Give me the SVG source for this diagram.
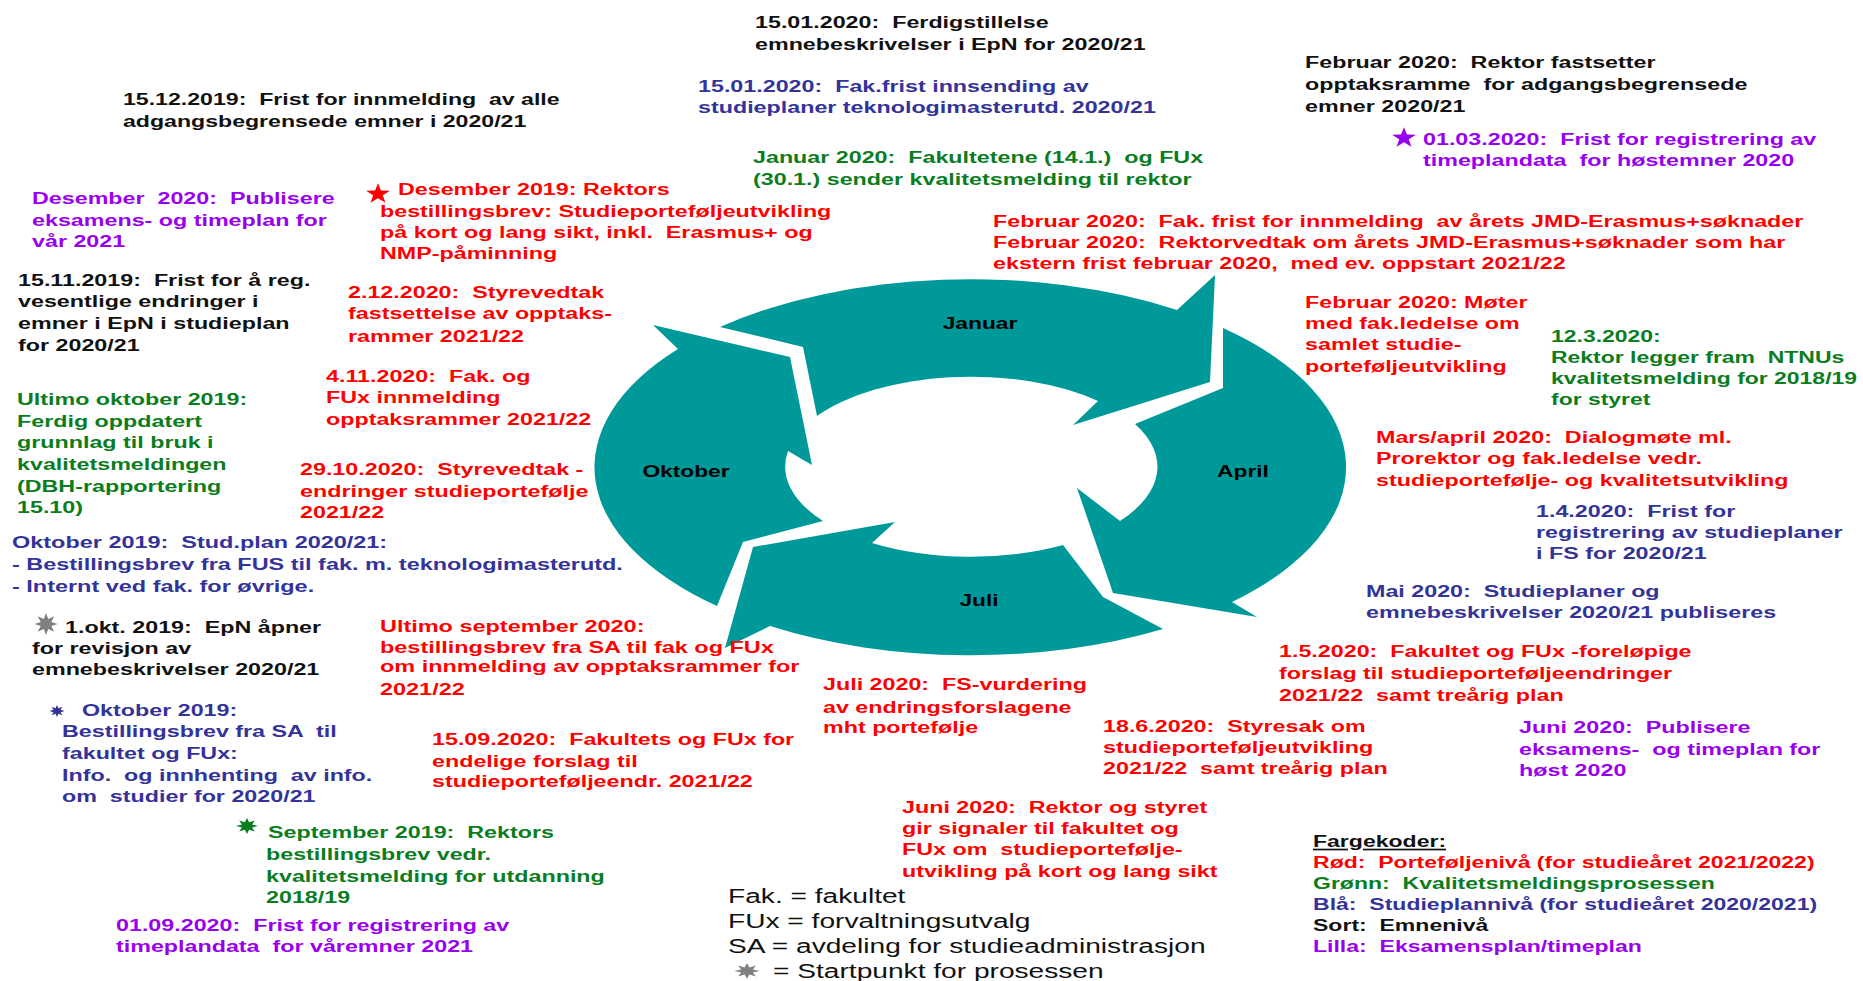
<svg xmlns="http://www.w3.org/2000/svg" xmlns:xlink="http://www.w3.org/1999/xlink" width="1863" height="981" viewBox="0 0 1863 981">
<style>
text{font-family:"Liberation Sans",Arial,"DejaVu Sans",sans-serif;white-space:pre}
.t{font-weight:bold;font-size:17px}
.n{font-size:21px;fill:#111}
.m{font-weight:bold;font-size:17px;fill:#000;text-anchor:middle}
.r{fill:#FF0000}
.g{fill:#0A7D1E}
.b{fill:#333399}
.p{fill:#9900EE}
.k{fill:#111}
.arrow{fill:#009999}
</style>
<defs>
<path id="star5" d="M0,-12 L2.82,-3.88 L11.41,-3.71 L4.57,1.48 L7.05,9.71 L0,4.8 L-7.05,9.71 L-4.57,1.48 L-11.41,-3.71 L-2.82,-3.88 Z"/>
<path id="star8" d="M0,-11 L2.1,-5.08 L7.78,-7.78 L5.08,-2.1 L11,0 L5.08,2.1 L7.78,7.78 L2.1,5.08 L0,11 L-2.1,5.08 L-7.78,7.78 L-5.08,2.1 L-11,0 L-5.08,-2.1 L-7.78,-7.78 L-2.1,-5.08 Z"/>
</defs>
<rect width="1863" height="981" fill="#fff"/>

<g id="cycle">
<g id="arrow-januar">
<path class="arrow" d="M720,327 A376,188 0 0 1 1177,310 L1215,275 L1210,382 L1073,425 L1098,401 A186,90 0 0 0 817,416 L803,347 Z"/>
<text class="m" transform="translate(980,329) scale(1.34,1)" x="0" y="0">Januar</text>
</g>
<g id="arrow-april">
<path class="arrow" d="M1223,328 A376,188 0 0 1 1232,602 L1257,617 L1113,593 L1077,488 L1120,521 A186,90 0 0 0 1135,424 L1223,388 Z"/>
<text class="m" transform="translate(1243,477) scale(1.34,1)" x="0" y="0">April</text>
</g>
<g id="arrow-juli">
<path class="arrow" d="M1163,629 A376,188 0 0 1 770,626 L725,648 L753,547 L895,522 L872,543 A186,90 0 0 0 1063,545 L1103,597 Z"/>
<text class="m" transform="translate(979,606) scale(1.34,1)" x="0" y="0">Juli</text>
</g>
<g id="arrow-oktober">
<path class="arrow" d="M717,606 A376,188 0 0 1 678,349 L653,325 L790,357 L812,465 L788,451 A186,90 0 0 0 823,521 L743,542 Z"/>
<text class="m" transform="translate(686,477) scale(1.34,1)" x="0" y="0">Oktober</text>
</g>
</g>

<g id="n-15-12-2019"><text class="t k" transform="translate(123,105) scale(1.36,1)"><tspan x="0" y="0">15.12.2019:  Frist for innmelding  av alle</tspan><tspan x="0" y="22">adgangsbegrensede emner i 2020/21</tspan></text></g>

<g id="n-15-01-2020-a"><text class="t k" transform="translate(755,28) scale(1.37,1)"><tspan x="0" y="0">15.01.2020:  Ferdigstillelse</tspan><tspan x="0" y="22">emnebeskrivelser i EpN for 2020/21</tspan></text></g>

<g id="n-15-01-2020-b"><text class="t b" transform="translate(698,92) scale(1.37,1)"><tspan x="0" y="0">15.01.2020:  Fak.frist innsending av</tspan><tspan x="0" y="21">studieplaner teknologimasterutd. 2020/21</tspan></text></g>

<g id="n-januar-2020"><text class="t g" transform="translate(753,163) scale(1.37,1)"><tspan x="0" y="0">Januar 2020:  Fakultetene (14.1.)  og FUx</tspan><tspan x="0" y="22">(30.1.) sender kvalitetsmelding til rektor</tspan></text></g>

<g id="n-februar-2020-rektor"><text class="t k" transform="translate(1305,68) scale(1.37,1)"><tspan x="0" y="0">Februar 2020:  Rektor fastsetter</tspan><tspan x="0" y="22">opptaksramme  for adgangsbegrensede</tspan><tspan x="0" y="44">emner 2020/21</tspan></text></g>

<g id="n-01-03-2020"><use xlink:href="#star5" href="#star5" class="p" transform="translate(1404,138) scale(1.05,0.9)"/><text class="t p" transform="translate(1423,145) scale(1.37,1)"><tspan x="0" y="0">01.03.2020:  Frist for registrering av</tspan><tspan x="0" y="21">timeplandata  for høstemner 2020</tspan></text></g>

<g id="n-desember-2020"><text class="t p" transform="translate(32,204) scale(1.37,1)"><tspan x="0" y="0">Desember  2020:  Publisere</tspan><tspan x="0" y="22">eksamens- og timeplan for</tspan><tspan x="0" y="43">vår 2021</tspan></text></g>

<g id="n-desember-2019"><use xlink:href="#star5" href="#star5" class="r" transform="translate(378,194) scale(1.05,0.9)"/><text class="t r" transform="translate(380,195) scale(1.37,1)"><tspan x="13.1" y="0">Desember 2019: Rektors</tspan><tspan x="0" y="22">bestillingsbrev: Studieporteføljeutvikling</tspan><tspan x="0" y="43">på kort og lang sikt, inkl.  Erasmus+ og</tspan><tspan x="0" y="64">NMP-påminning</tspan></text></g>

<g id="n-15-11-2019"><text class="t k" transform="translate(18,286) scale(1.37,1)"><tspan x="0" y="0">15.11.2019:  Frist for å reg.</tspan><tspan x="0" y="21">vesentlige endringer i</tspan><tspan x="0" y="43">emner i EpN i studieplan</tspan><tspan x="0" y="65">for 2020/21</tspan></text></g>

<g id="n-2-12-2020"><text class="t r" transform="translate(348,298) scale(1.37,1)"><tspan x="0" y="0">2.12.2020:  Styrevedtak</tspan><tspan x="0" y="21">fastsettelse av opptaks-</tspan><tspan x="0" y="44">rammer 2021/22</tspan></text></g>

<g id="n-4-11-2020"><text class="t r" transform="translate(326,382) scale(1.37,1)"><tspan x="0" y="0">4.11.2020:  Fak. og</tspan><tspan x="0" y="21">FUx innmelding</tspan><tspan x="0" y="43">opptaksrammer 2021/22</tspan></text></g>

<g id="n-ultimo-oktober-2019"><text class="t g" transform="translate(17,405) scale(1.37,1)"><tspan x="0" y="0">Ultimo oktober 2019:</tspan><tspan x="0" y="22">Ferdig oppdatert</tspan><tspan x="0" y="43">grunnlag til bruk i</tspan><tspan x="0" y="65">kvalitetsmeldingen</tspan><tspan x="0" y="87">(DBH-rapportering</tspan><tspan x="0" y="108">15.10)</tspan></text></g>

<g id="n-29-10-2020"><text class="t r" transform="translate(300,475) scale(1.37,1)"><tspan x="0" y="0">29.10.2020:  Styrevedtak -</tspan><tspan x="0" y="22">endringer studieportefølje</tspan><tspan x="0" y="43">2021/22</tspan></text></g>

<g id="n-oktober-2019-studplan"><text class="t b" transform="translate(12,548) scale(1.38,1)"><tspan x="0" y="0">Oktober 2019:  Stud.plan 2020/21:</tspan><tspan x="0" y="22">- Bestillingsbrev fra FUS til fak. m. teknologimasterutd.</tspan><tspan x="0" y="44">- Internt ved fak. for øvrige.</tspan></text></g>

<g id="n-1-okt-2019"><use xlink:href="#star8" href="#star8" fill="#808080" transform="translate(46,624) scale(1.05,1)"/><text class="t k" transform="translate(32,633) scale(1.37,1)"><tspan x="24.1" y="0">1.okt. 2019:  EpN åpner</tspan><tspan x="0" y="21">for revisjon av</tspan><tspan x="0" y="42">emnebeskrivelser 2020/21</tspan></text></g>

<g id="n-oktober-2019-sa"><use xlink:href="#star8" href="#star8" class="b" transform="translate(57,711) scale(0.7,0.55)"/><text class="t b" transform="translate(62,716) scale(1.37,1)"><tspan x="14.6" y="0">Oktober 2019:</tspan><tspan x="0" y="21">Bestillingsbrev fra SA  til</tspan><tspan x="0" y="43">fakultet og FUx:</tspan><tspan x="0" y="65">Info.  og innhenting  av info.</tspan><tspan x="0" y="86">om  studier for 2020/21</tspan></text></g>

<g id="n-september-2019"><use xlink:href="#star8" href="#star8" class="g" transform="translate(247,826) scale(1,0.72)"/><text class="t g" transform="translate(266,838) scale(1.37,1)"><tspan x="1.5" y="0">September 2019:  Rektors</tspan><tspan x="0" y="22">bestillingsbrev vedr.</tspan><tspan x="0" y="44">kvalitetsmelding for utdanning</tspan><tspan x="0" y="65">2018/19</tspan></text></g>

<g id="n-01-09-2020"><text class="t p" transform="translate(116,931) scale(1.37,1)"><tspan x="0" y="0">01.09.2020:  Frist for registrering av</tspan><tspan x="0" y="21">timeplandata  for våremner 2021</tspan></text></g>

<g id="n-ultimo-september-2020"><text class="t r" transform="translate(380,632) scale(1.38,1)"><tspan x="0" y="0">Ultimo september 2020:</tspan><tspan x="0" y="21">bestillingsbrev fra SA til fak og FUx</tspan><tspan x="0" y="40">om innmelding av opptaksrammer for</tspan><tspan x="0" y="63">2021/22</tspan></text></g>

<g id="n-15-09-2020"><text class="t r" transform="translate(432,745) scale(1.37,1)"><tspan x="0" y="0">15.09.2020:  Fakultets og FUx for</tspan><tspan x="0" y="22">endelige forslag til</tspan><tspan x="0" y="42">studieporteføljeendr. 2021/22</tspan></text></g>

<g id="n-juli-2020"><text class="t r" transform="translate(823,690) scale(1.37,1)"><tspan x="0" y="0">Juli 2020:  FS-vurdering</tspan><tspan x="0" y="23">av endringsforslagene</tspan><tspan x="0" y="43">mht portefølje</tspan></text></g>

<g id="n-juni-2020-rektor"><text class="t r" transform="translate(902,813) scale(1.37,1)"><tspan x="0" y="0">Juni 2020:  Rektor og styret</tspan><tspan x="0" y="21">gir signaler til fakultet og</tspan><tspan x="0" y="42">FUx om  studieportefølje-</tspan><tspan x="0" y="64">utvikling på kort og lang sikt</tspan></text></g>

<g id="n-forkortelser"><text class="n" transform="translate(728,903) scale(1.34,1)"><tspan x="0" y="0">Fak. = fakultet</tspan><tspan x="0" y="25">FUx = forvaltningsutvalg</tspan><tspan x="0" y="50">SA = avdeling for studieadministrasjon</tspan><tspan x="33.6" y="75">= Startpunkt for prosessen</tspan></text><use xlink:href="#star8" href="#star8" fill="#808080" transform="translate(747,971) scale(1.15,0.7)"/></g>

<g id="n-18-6-2020"><text class="t r" transform="translate(1103,732) scale(1.37,1)"><tspan x="0" y="0">18.6.2020:  Styresak om</tspan><tspan x="0" y="21">studieporteføljeutvikling</tspan><tspan x="0" y="42">2021/22  samt treårig plan</tspan></text></g>

<g id="n-1-5-2020"><text class="t r" transform="translate(1279,657) scale(1.37,1)"><tspan x="0" y="0">1.5.2020:  Fakultet og FUx -foreløpige</tspan><tspan x="0" y="22">forslag til studieporteføljeendringer</tspan><tspan x="0" y="44">2021/22  samt treårig plan</tspan></text></g>

<g id="n-juni-2020-publisere"><text class="t p" transform="translate(1519,733) scale(1.37,1)"><tspan x="0" y="0">Juni 2020:  Publisere</tspan><tspan x="0" y="22">eksamens-  og timeplan for</tspan><tspan x="0" y="43">høst 2020</tspan></text></g>

<g id="n-fargekoder"><text class="t" transform="translate(1313,847) scale(1.355,1)"><tspan class="k" x="0" y="0" text-decoration="underline">Fargekoder:</tspan><tspan class="r" x="0" y="21">Rød:  Porteføljenivå (for studieåret 2021/2022)</tspan><tspan class="g" x="0" y="42">Grønn:  Kvalitetsmeldingsprosessen</tspan><tspan class="b" x="0" y="63">Blå:  Studieplannivå (for studieåret 2020/2021)</tspan><tspan class="k" x="0" y="84">Sort:  Emnenivå</tspan><tspan class="p" x="0" y="105">Lilla:  Eksamensplan/timeplan</tspan></text></g>

<g id="n-februar-2020-jmd"><text class="t r" transform="translate(993,227) scale(1.37,1)"><tspan x="0" y="0">Februar 2020:  Fak. frist for innmelding  av årets JMD-Erasmus+søknader</tspan><tspan x="0" y="21">Februar 2020:  Rektorvedtak om årets JMD-Erasmus+søknader som har</tspan><tspan x="0" y="42">ekstern frist februar 2020,  med ev. oppstart 2021/22</tspan></text></g>

<g id="n-februar-2020-moter"><text class="t r" transform="translate(1305,308) scale(1.37,1)"><tspan x="0" y="0">Februar 2020: Møter</tspan><tspan x="0" y="21">med fak.ledelse om</tspan><tspan x="0" y="42">samlet studie-</tspan><tspan x="0" y="64">porteføljeutvikling</tspan></text></g>

<g id="n-12-3-2020"><text class="t g" transform="translate(1551,342) scale(1.35,1)"><tspan x="0" y="0">12.3.2020:</tspan><tspan x="0" y="21">Rektor legger fram  NTNUs</tspan><tspan x="0" y="42">kvalitetsmelding for 2018/19</tspan><tspan x="0" y="63">for styret</tspan></text></g>

<g id="n-mars-april-2020"><text class="t r" transform="translate(1376,443) scale(1.37,1)"><tspan x="0" y="0">Mars/april 2020:  Dialogmøte ml.</tspan><tspan x="0" y="21">Prorektor og fak.ledelse vedr.</tspan><tspan x="0" y="43">studieportefølje- og kvalitetsutvikling</tspan></text></g>

<g id="n-1-4-2020"><text class="t b" transform="translate(1536,517) scale(1.37,1)"><tspan x="0" y="0">1.4.2020:  Frist for</tspan><tspan x="0" y="21">registrering av studieplaner</tspan><tspan x="0" y="42">i FS for 2020/21</tspan></text></g>

<g id="n-mai-2020"><text class="t b" transform="translate(1366,597) scale(1.37,1)"><tspan x="0" y="0">Mai 2020:  Studieplaner og</tspan><tspan x="0" y="21">emnebeskrivelser 2020/21 publiseres</tspan></text></g>
</svg>
